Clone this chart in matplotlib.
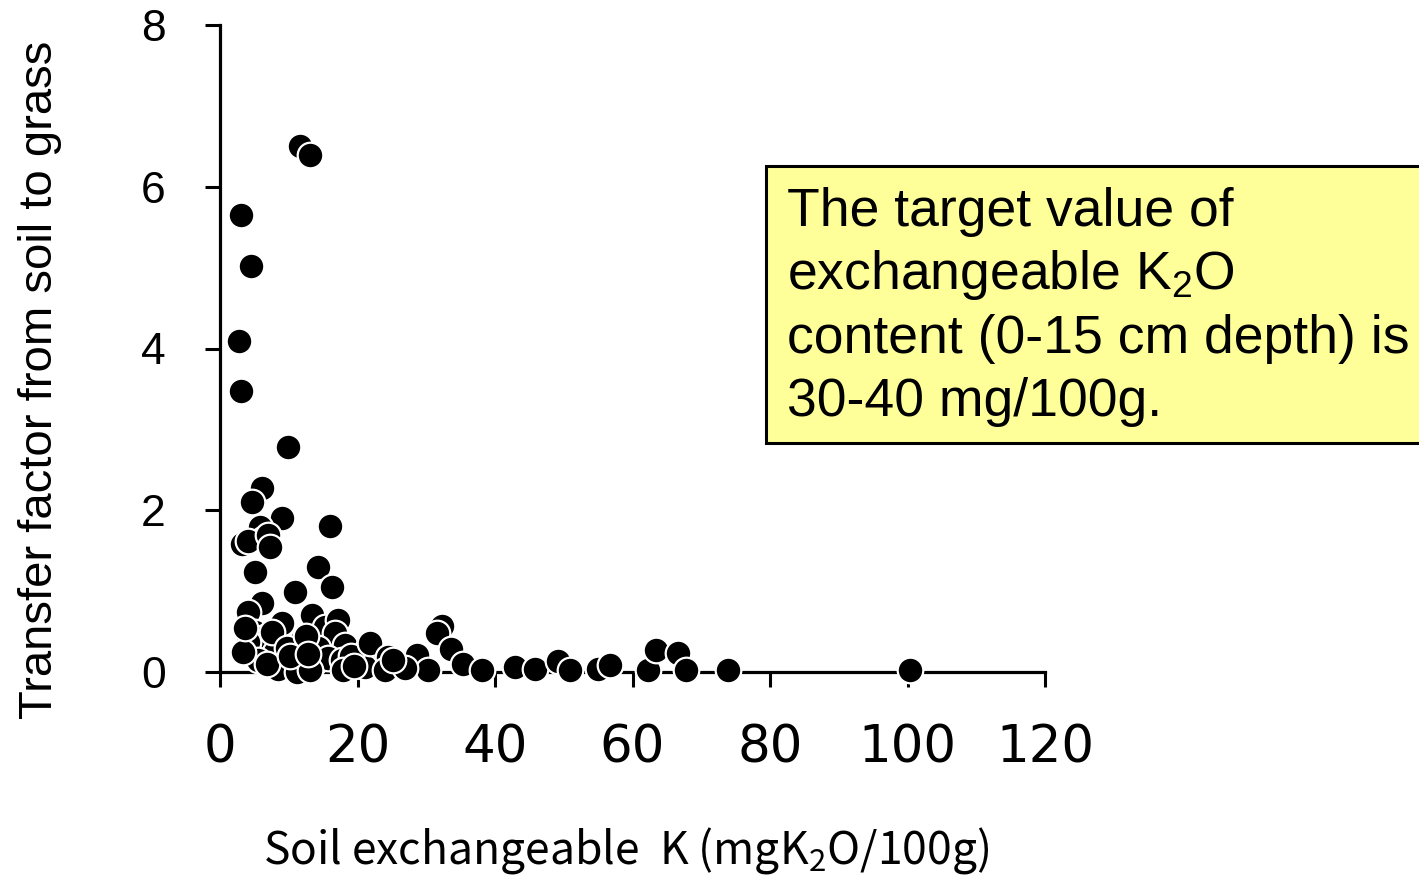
import matplotlib
matplotlib.use("Agg")
import matplotlib.pyplot as plt
from matplotlib.patches import Rectangle

# Soil exchangeable K (mgK2O/100g)
soil_k = [11.6, 13.1, 3.05, 4.5, 2.76, 3.05, 9.9, 6.1, 4.7, 9.0, 5.8, 16.0,
          6.3, 3.2, 4.0, 7.0, 7.3,
          5.1, 14.3, 16.3, 10.9, 6.1, 4.1, 9.0, 13.4, 15.3, 17.2, 5.1, 6.5, 11.9, 16.7,
          4.1, 8.0, 14.3, 18.2, 21.5, 5.5, 13.8, 15.7, 17.7, 10.5, 21.1,
          3.4, 7.5, 9.8, 12.5, 19.0, 8.5, 11.2, 13.1, 17.9, 19.5, 6.8, 10.2, 12.8, 3.6,
          21.8, 24.4, 24.0, 28.7, 32.3, 31.5, 33.6, 30.3, 35.3, 38.1, 26.9, 25.2,
          42.9, 45.8, 49.2, 50.9, 55.0, 56.7, 62.3, 63.4, 66.6, 67.8, 73.9, 100.4]
# Transfer factor from soil to grass
transfer = [6.50, 6.39, 5.65, 5.02, 4.09, 3.47, 2.78, 2.28, 2.10, 1.91, 1.79, 1.80,
            1.64, 1.58, 1.62, 1.70, 1.55,
            1.24, 1.30, 1.05, 0.99, 0.85, 0.74, 0.61, 0.70, 0.56, 0.64, 0.49, 0.43, 0.40, 0.48,
            0.37, 0.25, 0.30, 0.33, 0.30, 0.15, 0.12, 0.17, 0.15, 0.11, 0.06,
            0.25, 0.50, 0.30, 0.45, 0.20, 0.04, 0.00, 0.02, 0.02, 0.08, 0.10, 0.20, 0.22, 0.55,
            0.36, 0.19, 0.02, 0.21, 0.57, 0.48, 0.28, 0.02, 0.10, 0.02, 0.05, 0.15,
            0.06, 0.04, 0.14, 0.02, 0.04, 0.09, 0.02, 0.27, 0.24, 0.02, 0.02, 0.02]

x_ticks = [0, 20, 40, 60, 80, 100, 120]
y_ticks = [0, 2, 4, 6, 8]

W, H = 1419, 875
fig = plt.figure(figsize=(W / 100, H / 100), dpi=100)
ax = fig.add_axes([220 / W, 1 - 672 / H, (1045 - 220) / W, (672 - 25) / H])
ax.set_xlim(0, 120)
ax.set_ylim(0, 8)

ax.scatter(soil_k, transfer, s=340, c="black", edgecolors="white", linewidths=1.6,
           zorder=5, clip_on=False)

for s in ["top", "right"]:
    ax.spines[s].set_visible(False)
for s in ["left", "bottom"]:
    ax.spines[s].set_linewidth(2.3)
    ax.spines[s].set_zorder(1)

ax.set_xticks(x_ticks)
ax.set_yticks(y_ticks)
ax.tick_params(axis="both", direction="out", length=11, width=2.2)
ax.tick_params(axis="x", pad=26, labelsize=37, labelfontfamily="DejaVu Sans")
ax.tick_params(axis="y", pad=28, labelsize=32, labelfontfamily="Liberation Sans")

plt.rcParams["mathtext.default"] = "regular"
fig.text(40 / W, 1 - 380 / H, "Transfer factor from soil to grass", rotation=90,
         ha="center", va="center", fontsize=34, family="Liberation Sans")
fig.text(626 / W, 1 - 850 / H, "Soil exchangeable  K (mgK$_2$O/100g)",
         ha="center", va="center", fontsize=32, family="Noto Sans CJK JP")

# annotation box
rect = Rectangle((766 / W, 1 - 443 / H), 1.0, (443 - 166) / H, transform=fig.transFigure,
                 facecolor="#FFFF99", edgecolor="black", linewidth=2.2, zorder=10)
fig.patches.append(rect)
lines = ["The target value of", "exchangeable K$_2$O", "content (0-15 cm depth) is",
         "30-40 mg/100g."]
for i, t in enumerate(lines):
    fig.text(787 / W, 1 - (212 + i * 63.5) / H, t, ha="left", va="center",
             fontsize=38.5, family="Liberation Sans", zorder=11)

fig.savefig("out.png", dpi=100)
